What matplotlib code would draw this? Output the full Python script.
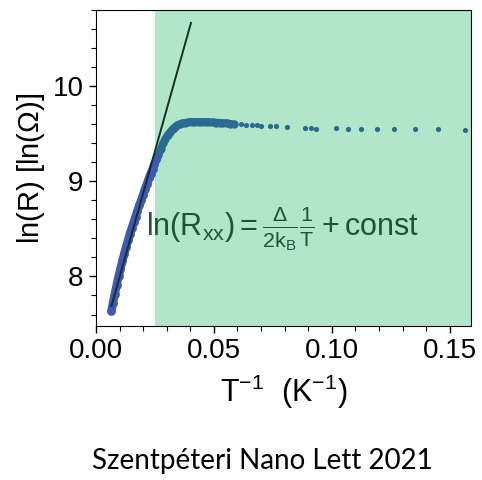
import matplotlib
matplotlib.use("Agg")
import matplotlib.pyplot as plt
from matplotlib.ticker import MultipleLocator, FormatStrFormatter

plt.rcParams['font.family'] = ['Liberation Sans', 'DejaVu Sans']
plt.rcParams['mathtext.fontset'] = 'custom'
plt.rcParams['mathtext.rm'] = 'Liberation Sans'
plt.rcParams['mathtext.it'] = 'Liberation Sans'
plt.rcParams['mathtext.bf'] = 'Liberation Sans:bold'

# dense part of the curve (1/T, ln R)
inv_t = [0.0066, 0.0072, 0.0080, 0.0088, 0.0096, 0.0104, 0.0112, 0.0120, 0.0128,
         0.0136, 0.0144, 0.0152, 0.0160, 0.0168, 0.0176, 0.0184, 0.0192, 0.0200,
         0.0208, 0.0216, 0.0224, 0.0232, 0.0240, 0.0248, 0.0256, 0.0265, 0.0275,
         0.0285, 0.0295, 0.0305, 0.0315, 0.0325, 0.0335, 0.0345, 0.0355, 0.0365,
         0.0378, 0.0392, 0.0406, 0.0420, 0.0435, 0.0450, 0.0465, 0.0480, 0.0495,
         0.0510, 0.0525, 0.0540, 0.0555, 0.0570, 0.0585]
ln_r = [7.64, 7.72, 7.82, 7.91, 8.00, 8.08, 8.16, 8.24, 8.31,
        8.38, 8.45, 8.51, 8.57, 8.63, 8.69, 8.75, 8.80, 8.86,
        8.92, 8.97, 9.03, 9.08, 9.13, 9.18, 9.23, 9.28, 9.34,
        9.40, 9.45, 9.49, 9.52, 9.55, 9.57, 9.59, 9.60, 9.61,
        9.615, 9.62, 9.625, 9.625, 9.625, 9.625, 9.625, 9.622, 9.62,
        9.618, 9.615, 9.612, 9.61, 9.605, 9.60]

# sparse low temperature points
inv_t_low = [0.0617, 0.0638, 0.0660, 0.0681, 0.0702, 0.0737, 0.0763, 0.0812,
             0.0886, 0.0910, 0.0932, 0.1016, 0.1070, 0.1126, 0.1192, 0.1263,
             0.1352, 0.1449, 0.1566]
ln_r_low = [9.60, 9.595, 9.59, 9.59, 9.585, 9.58, 9.58, 9.575,
            9.56, 9.56, 9.555, 9.56, 9.555, 9.555, 9.55, 9.55,
            9.545, 9.545, 9.54]

# activated fit ln R = slope / T + const
fit_slope = 88.3
fit_const = 7.107
fit_x = [0.0066, 0.0403]

gap_start = 0.025

blue = '#3f58b8'
teal = '#2a6b92'

fig = plt.figure(figsize=(4.82, 4.8), dpi=100)
ax = fig.add_axes([0.199, 0.321, 0.778, 0.658])

ax.axvspan(gap_start, 0.2, color='#b2e6c9', zorder=0, lw=0)

n_hot = sum(1 for x in inv_t if x < gap_start)
x_hot, y_hot = inv_t[:n_hot + 1], ln_r[:n_hot + 1]
x_cold, y_cold = inv_t[n_hot:], ln_r[n_hot:]

# dense measured points merge into a thick band
ax.plot(x_cold, y_cold, color=teal, lw=5.5, solid_capstyle='round', zorder=2)
ax.plot(x_hot, y_hot, color=blue, lw=6, solid_capstyle='round', zorder=2)
ax.scatter(x_cold, y_cold, s=36, color=teal, lw=0, zorder=2)
ax.scatter(x_hot, y_hot, s=40, color=blue, lw=0, zorder=2)
ax.scatter(inv_t_low, ln_r_low, s=14, color=teal, lw=0, zorder=2)

fit_y = [fit_slope * x + fit_const for x in fit_x]
ax.plot(fit_x, fit_y, color='#14301f', lw=1.4, zorder=3)

ax.text(0.0212, 8.5, r'$\mathrm{ln(R_{xx}) = \frac{\Delta}{2k_B}\frac{1}{T} + const}$',
        color='#1b5534', fontsize=22, va='center', ha='left', zorder=4)

ax.set_xlim(0, 0.159)
ax.set_ylim(7.48, 10.8)
ax.xaxis.set_major_locator(MultipleLocator(0.05))
ax.xaxis.set_minor_locator(MultipleLocator(0.01))
ax.yaxis.set_major_locator(MultipleLocator(1))
ax.yaxis.set_minor_locator(MultipleLocator(0.2))
ax.xaxis.set_major_formatter(FormatStrFormatter('%.2f'))
ax.tick_params(labelsize=20, length=5, width=1, pad=4)
ax.tick_params(which='minor', length=3.5, width=0.8)

ax.set_ylabel(r'ln(R) [ln($\Omega$)]', fontsize=21, labelpad=4)
ax.set_xlabel(r'$\mathrm{T^{-1}\ \ (K^{-1})}$', fontsize=22, labelpad=6)

fig.text(0.545, 0.012, 'Szentpéteri Nano Lett 2021', fontsize=20,
         family=['Lato', 'DejaVu Sans'], ha='center', va='bottom')

fig.savefig('out.png', dpi=100)
